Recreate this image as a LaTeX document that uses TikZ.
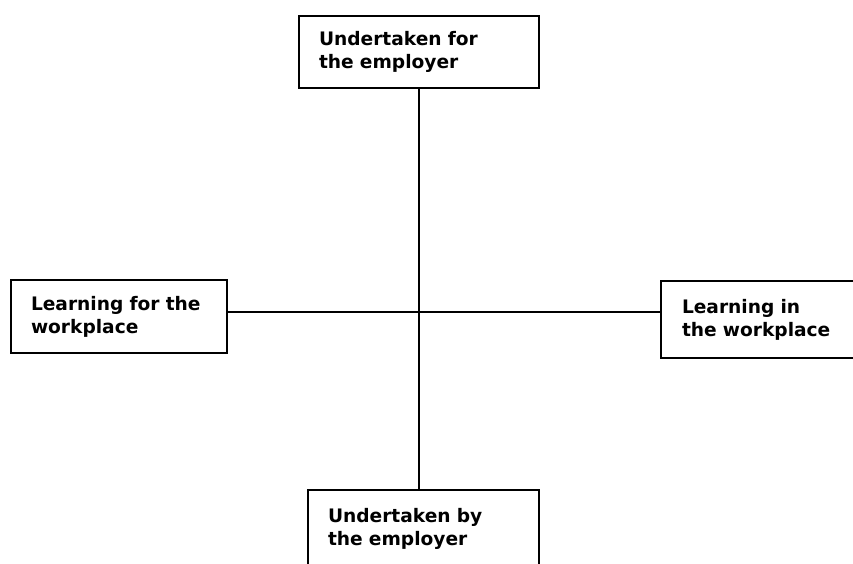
\documentclass[tikz,border=0pt]{standalone}
\usepackage{fontspec}
\setmainfont{DejaVu Sans}
\usepackage{tikz}
\usetikzlibrary{positioning}

\begin{document}
\begin{tikzpicture}[x=1pt, y=-1pt,
        quadnode/.style={rectangle, draw=black, line width=1.6pt, inner xsep=20pt, inner ysep=0pt,
            align=left, font=\bfseries\fontsize{18.6}{23}\selectfont},
        axisline/.style={draw=black, line width=1.6pt}]

        \useasboundingbox (0,0) rectangle (853,563);
        \clip (0,0) rectangle (853,563);

        \node[quadnode, minimum height=72pt, text width=200pt] (top) at (419,52) {Undertaken for\\the employer};
        \node[quadnode, minimum height=73pt, text width=176pt] (left) at (119,316.5) {Learning for the\\workplace};
        \node[quadnode, minimum height=77pt, text width=178pt, inner xsep=21pt] (right) at (771,319.5) {Learning in\\the workplace};
        \node[quadnode, minimum height=78pt, text width=191pt] (bottom) at (423.5,529) {Undertaken by\\the employer};

        \draw[axisline] (top.south) -- (top.south |- bottom.north);
        \draw[axisline] ([yshift=4.5pt]left.east) -- ([yshift=4.5pt]left.east -| right.west);

        \end{tikzpicture}
\end{document}
